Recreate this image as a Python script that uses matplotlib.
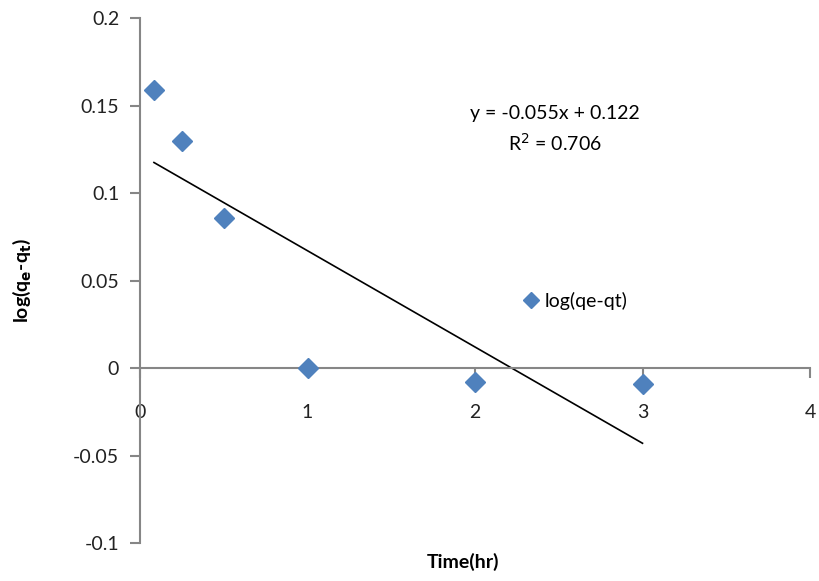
import numpy as np
import matplotlib.pyplot as plt

plt.rcParams['font.family'] = ['Lato', 'DejaVu Sans']

time_hr = [0.083, 0.25, 0.5, 1, 2, 3]
log_qe_qt = [0.159, 0.130, 0.086, 0.0, -0.008, -0.009]

slope = -0.055
intercept = 0.122
r2 = 0.706

xticks = [0, 1, 2, 3, 4]
yticks = [-0.1, -0.05, 0, 0.05, 0.1, 0.15, 0.2]
ytick_labels = ['-0.1', '-0.05', '0', '0.05', '0.1', '0.15', '0.2']

fig = plt.figure(figsize=(8.19, 5.81), dpi=100)
ax = fig.add_axes([0.171, 0.0654, 0.818, 0.9036])

ax.plot(time_hr, log_qe_qt, linestyle='none', marker='D', markersize=10.5,
        color='#4F81BD', label='log(qe-qt)', zorder=3)

xfit = np.array([min(time_hr), max(time_hr)])
ax.plot(xfit, slope * xfit + intercept, color='black', linewidth=1.2, zorder=2)

ax.set_xlim(0, 4)
ax.set_ylim(-0.1, 0.2)
ax.set_xticks(xticks)
ax.set_yticks(yticks)
ax.set_yticklabels(ytick_labels)

for s in ['top', 'right']:
    ax.spines[s].set_visible(False)
ax.spines['bottom'].set_position(('data', 0))
for s in ['left', 'bottom']:
    ax.spines[s].set_color('#868686')
    ax.spines[s].set_linewidth(1.5)

ax.tick_params(axis='y', direction='out', length=7, width=1.5, color='#868686',
               labelsize=14, pad=8, labelcolor='#222222')
ax.tick_params(axis='x', direction='out', length=7, width=1.5, color='#868686',
               labelsize=14, pad=19, labelcolor='#222222')

ax.set_xlabel('Time(hr)', fontsize=14, fontweight='bold')
ax.xaxis.set_label_coords(0.482, -0.018)
ax.set_ylabel(r'log(q$_\mathbf{e}$-q$_\mathbf{t}$)', fontsize=14, fontweight='bold')
ax.yaxis.set_label_coords(-0.16, 0.5)

ax.text(0.619, 0.819, f'y = {slope}x + {intercept}', transform=ax.transAxes,
        ha='center', va='center', fontsize=14)
ax.text(0.619, 0.762, f'R$^2$ = {r2}', transform=ax.transAxes,
        ha='center', va='center', fontsize=14)

ax.legend(loc='center left', bbox_to_anchor=(0.546, 0.461), frameon=False,
          handlelength=0.8, handletextpad=0.3, fontsize=14, markerscale=0.8)

plt.savefig('out.png', dpi=100)
